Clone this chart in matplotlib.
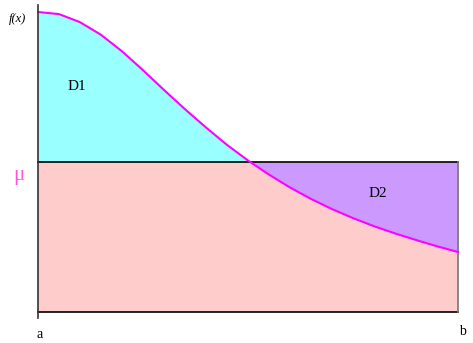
import matplotlib.pyplot as plt
import numpy as np

# curve f(x), x from a (0) to b (1)
x = [0.0, 0.05, 0.1, 0.15, 0.2, 0.25, 0.3, 0.35, 0.4, 0.45, 0.5,
     0.55, 0.6, 0.65, 0.7, 0.75, 0.8, 0.85, 0.9, 0.95, 1.0]
fx = [1.0, 0.993, 0.966, 0.924, 0.869, 0.806, 0.74, 0.676, 0.615, 0.557, 0.505,
      0.458, 0.415, 0.377, 0.343, 0.313, 0.286, 0.262, 0.24, 0.219, 0.2]
mu = 0.5
a_lbl, b_lbl = 'a', 'b'

xs = np.array(x)
ys = np.array(fx)

fig = plt.figure(figsize=(4.73, 3.43), dpi=100)
ax = fig.add_axes([0, 0, 1, 1])
ax.set_xlim(-38 / 420, 435 / 420)
ax.set_ylim(-31 / 300, 312 / 300)
ax.axis('off')

serif = 'Liberation Serif'

# pink rectangle under mu
ax.fill_between([0, 1], 0, mu, color='#ffcccc', lw=0)
# D1 (curve above mu) and D2 (curve below mu)
ax.fill_between(xs, mu, ys, where=ys >= mu, interpolate=True, color='#99ffff', lw=0)
ax.fill_between(xs, ys, mu, where=ys <= mu, interpolate=True, color='#cc99ff', lw=0)

ax.plot(xs, ys, color='#ff00ff', lw=1.5, zorder=4, solid_joinstyle='round')
ax.plot([0, 1], [mu, mu], color='black', lw=1.2, zorder=3)
ax.plot([0, 1], [0, 0], color='black', lw=1.2, zorder=3)
ax.plot([1, 1], [0, mu], color='#777777', lw=1.2, zorder=3)
ax.plot([0, 0], [-0.02, 1.023], color='#333333', lw=1.2, zorder=5)

ax.text(-0.05, 0.977, 'f(x)', family=serif, style='italic', fontsize=9,
        ha='center', va='center')
ax.text(-0.045, 0.455, 'μ', family=serif, fontsize=15, color='#ff55dd',
        ha='center', va='center')
ax.text(0.092, 0.75, 'D1', family=serif, fontsize=11, ha='center', va='center')
ax.text(0.808, 0.395, 'D2', family=serif, fontsize=11, ha='center', va='center')
ax.text(0.005, -0.075, a_lbl, family=serif, fontsize=10, ha='center', va='center')
ax.text(1.01, -0.065, b_lbl, family=serif, fontsize=10, ha='center', va='center')

fig.savefig('out.png', dpi=100)
